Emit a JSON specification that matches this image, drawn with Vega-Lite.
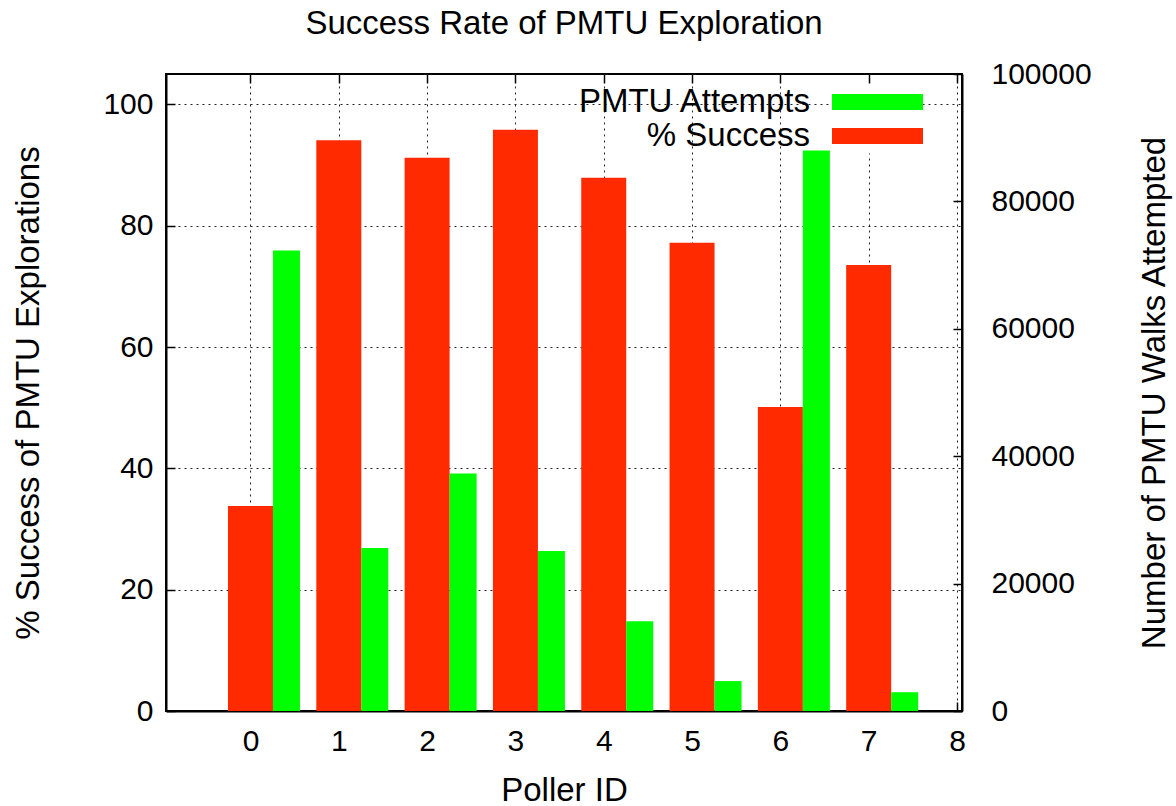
{
  "$schema": "https://vega.github.io/schema/vega-lite/v6.json",
  "width": 796,
  "height": 637,
  "autosize": "none",
  "padding": {"left": 166, "top": 74, "right": 214, "bottom": 95},
  "background": "white",
  "config": {
    "font": "Liberation Sans",
    "view": {"stroke": "black", "strokeWidth": 2},
    "axis": {
      "labelFontSize": 30,
      "titleFontSize": 33,
      "titleFontWeight": "normal",
      "labelColor": "black",
      "titleColor": "black",
      "domainColor": "black",
      "domainWidth": 2,
      "tickColor": "black",
      "tickWidth": 1.5,
      "gridColor": "#222222",
      "gridDash": [2, 4],
      "gridWidth": 1,
      "gridOpacity": 1
    }
  },
  "title": {
    "text": "Success Rate of PMTU Exploration",
    "fontSize": 33,
    "fontWeight": "normal",
    "color": "black",
    "offset": 18
  },
  "data": {
    "values": [
      {"poller": 0, "success": 33.8, "attempts": 72300},
      {"poller": 1, "success": 94.1, "attempts": 25600},
      {"poller": 2, "success": 91.2, "attempts": 37300},
      {"poller": 3, "success": 95.8, "attempts": 25100},
      {"poller": 4, "success": 87.9, "attempts": 14100},
      {"poller": 5, "success": 77.2, "attempts": 4700},
      {"poller": 6, "success": 50.1, "attempts": 88000},
      {"poller": 7, "success": 73.5, "attempts": 2950}
    ]
  },
  "layer": [
    {
      "mark": {"type": "bar", "size": 45},
      "encoding": {
        "x": {
          "field": "poller",
          "type": "quantitative",
          "scale": {"domain": [-0.9, 8], "nice": false, "zero": false},
          "axis": {
            "values": [0, 1, 2, 3, 4, 5, 6, 7, 8],
            "format": "d",
            "title": "Poller ID",
            "grid": true,
            "tickSize": -9,
            "labelPadding": 24,
            "titlePadding": 18,
            "labelFlush": false
          }
        },
        "y": {
          "field": "success",
          "type": "quantitative",
          "scale": {"domain": [0, 105], "nice": false},
          "axis": {
            "values": [0, 20, 40, 60, 80, 100],
            "title": "% Success of PMTU Explorations",
            "grid": true,
            "tickSize": -9,
            "labelPadding": 22,
            "titlePadding": 57,
            "labelFlush": false
          }
        },
        "color": {
          "datum": "% Success",
          "scale": {"domain": ["PMTU Attempts", "% Success"], "range": ["#00ff00", "#ff2a00"]},
          "legend": {
            "orient": "none",
            "legendX": 695,
            "legendY": 11.5,
            "title": null,
            "symbolType": "M-5.6875,-1H5.6875V1H-5.6875Z",
            "symbolSize": 256,
            "symbolStrokeWidth": 0,
            "symbolOpacity": 1,
            "labelAlign": "right",
            "labelOffset": -84,
            "labelFontSize": 33,
            "labelColor": "black",
            "labelLimit": 0,
            "rowPadding": 0,
            "fillColor": "white",
            "padding": 0
          }
        }
      }
    },
    {
      "mark": {"type": "bar", "size": 27, "xOffset": 36},
      "encoding": {
        "x": {
          "field": "poller",
          "type": "quantitative",
          "axis": {
            "orient": "top",
            "values": [0, 1, 2, 3, 4, 5, 6, 7, 8],
            "labels": false,
            "title": null,
            "grid": false,
            "domain": false,
            "tickSize": -9
          }
        },
        "y": {
          "field": "attempts",
          "type": "quantitative",
          "scale": {"domain": [0, 100000], "nice": false},
          "axis": {
            "orient": "right",
            "values": [0, 20000, 40000, 60000, 80000, 100000],
            "format": "d",
            "title": "Number of PMTU Walks Attempted",
            "titleAngle": -90,
            "grid": false,
            "tickSize": -9,
            "labelPadding": 38,
            "titlePadding": 80,
            "labelFlush": false
          }
        },
        "color": {"datum": "PMTU Attempts"}
      }
    }
  ],
  "resolve": {"scale": {"y": "independent"}, "axis": {"x": "independent"}}
}
